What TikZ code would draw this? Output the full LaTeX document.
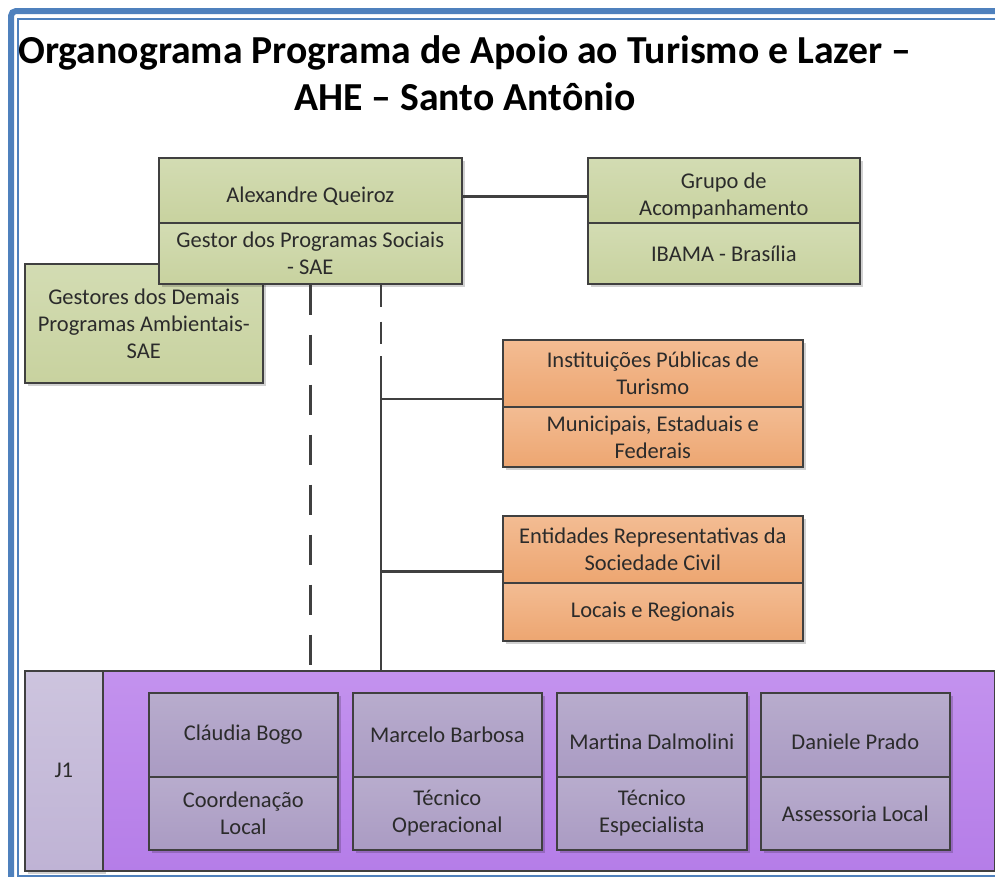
\documentclass[tikz,border=0pt]{standalone}
\usepackage{fontspec}
\setmainfont{Carlito}
\usetikzlibrary{shadows}
\definecolor{frameblue}{HTML}{4F81BD}
\definecolor{boxline}{HTML}{404040}
\definecolor{txt}{HTML}{2B2B2B}
\definecolor{gA}{HTML}{D3DCB3}
\definecolor{gB}{HTML}{C8D29F}
\definecolor{oA}{HTML}{F3BC93}
\definecolor{oB}{HTML}{EDA671}
\definecolor{pA}{HTML}{C392EE}
\definecolor{pB}{HTML}{B57DE8}
\definecolor{jA}{HTML}{CDC4DE}
\definecolor{jB}{HTML}{BFB3D5}
\definecolor{lA}{HTML}{B8ACCD}
\definecolor{lB}{HTML}{AA9BC3}
\newcommand{\lowr}[2]{\raisebox{-#1}[\height][\depth]{#2}}
\begin{document}
\begin{tikzpicture}[x=1bp,y=-1bp,
  box/.style={draw=boxline, line width=1.6bp, inner sep=2bp, align=center,
    anchor=north west, text=txt, font=\fontsize{22.5bp}{27bp}\selectfont},
  shad/.style={drop shadow={shadow xshift=3bp, shadow yshift=-3bp, opacity=0.18, fill=black}},
  greenbox/.style={box, top color=gA, bottom color=gB},
  orangebox/.style={box, top color=oA, bottom color=oB},
  lanebox/.style={box, top color=lA, bottom color=lB},
  conn/.style={draw=boxline, line width=2.6bp},
  connthin/.style={draw=boxline, line width=1.8bp},
  dashthick/.style={draw=boxline, line width=3bp, dash pattern=on 30bp off 20bp},
  dashthin/.style={draw=boxline, line width=1.8bp, dash pattern=on 22bp off 15bp}
]
\useasboundingbox (0,0) rectangle (995,877);
\begin{scope}
\clip (0,0) rectangle (995,877);
% blue frame
\draw[frameblue, line width=6bp, rounded corners=5bp] (11,1000) -- (11,11) -- (1010,11);
\draw[frameblue, line width=1.6bp] (18,900) -- (18,19) -- (1010,19);
\draw[frameblue, line width=1.6bp] (18,876) -- (1010,876);
\end{scope}

% title
\node[text=black, font=\fontsize{39.7bp}{47bp}\selectfont\bfseries, align=center] (title) at (465,73)
  {Organograma Programa de Apoio ao Turismo e Lazer –\\AHE – Santo Antônio};

% green boxes
\node[greenbox, shad, minimum width=238bp, minimum height=119bp] (gest) at (24,263)
  {Gestores dos Demais\\Programas Ambientais-\\SAE};
\node[greenbox, shad, minimum width=303bp, minimum height=65bp] (aq) at (158,157) {\lowr{6bp}{Alexandre Queiroz}};
\node[greenbox, shad, minimum width=303bp, minimum height=61bp] (aqs) at (158,222) {Gestor dos Programas Sociais\\- SAE};
\node[greenbox, shad, minimum width=272bp, minimum height=65bp] (gr) at (587,157) {\lowr{6bp}{Grupo de}\\\lowr{6bp}{Acompanhamento}};
\node[greenbox, shad, minimum width=272bp, minimum height=61bp] (grs) at (587,222) {IBAMA - Brasília};

% orange boxes
\node[orangebox, shad, minimum width=300bp, minimum height=67bp] (inst) at (502,339) {Instituições Públicas de\\Turismo};
\node[orangebox, shad, minimum width=300bp, minimum height=60bp] (insts) at (502,406) {Municipais, Estaduais e\\Federais};
\node[orangebox, shad, minimum width=300bp, minimum height=67bp] (ent) at (502,515) {Entidades Representativas da\\Sociedade Civil};
\node[orangebox, shad, minimum width=300bp, minimum height=58bp] (ents) at (502,582) {Locais e Regionais};

% swimlane
\node[box, shad, top color=jA, bottom color=jB, minimum width=78bp, minimum height=200bp] (j1) at (24,670) {J1};
\node[box, top color=pA, bottom color=pB, minimum width=892bp, minimum height=200bp] (lane) at (102,670) {};

\node[lanebox, shad, minimum width=189bp, minimum height=84bp] (c1) at (148,692) {Cláudia Bogo};
\node[lanebox, shad, minimum width=189bp, minimum height=73bp] (c1s) at (148,776) {Coordenação\\Local};
\node[lanebox, shad, minimum width=189bp, minimum height=84bp] (c2) at (352,692) {Marcelo Barbosa};
\node[lanebox, shad, minimum width=190bp, minimum height=84bp] (c3) at (556,692) {\lowr{7bp}{Martina Dalmolini}};
\node[lanebox, shad, minimum width=189bp, minimum height=73bp] (c2s) at (352,776) {Técnico\\Operacional};
\node[lanebox, shad, minimum width=190bp, minimum height=73bp] (c3s) at (556,776) {Técnico\\Especialista};
\node[lanebox, shad, minimum width=189bp, minimum height=84bp] (c4) at (760,692) {\lowr{7bp}{Daniele Prado}};
\node[lanebox, shad, minimum width=189bp, minimum height=73bp] (c4s) at (760,776) {Assessoria Local};

% connectors
\draw[conn] ([yshift=-6bp]aq.east) -- ([yshift=-6bp]gr.west);
\draw[dashthick] ([xshift=152bp]aqs.south west) -- ([xshift=152bp]aqs.south west |- lane.north);
\draw[dashthin] ([xshift=223bp]aqs.south west) -- ([xshift=223bp]aqs.south west |- lane.north);
\coordinate (bj) at (381,356);
\draw[conn] (bj) -- (bj |- lane.north);
\draw[connthin] ([yshift=9bp]inst.south west) -- ++(-121,0);
\draw[conn] ([yshift=12bp]ent.south west) -- ++(-121,0);
\end{tikzpicture}
\end{document}
